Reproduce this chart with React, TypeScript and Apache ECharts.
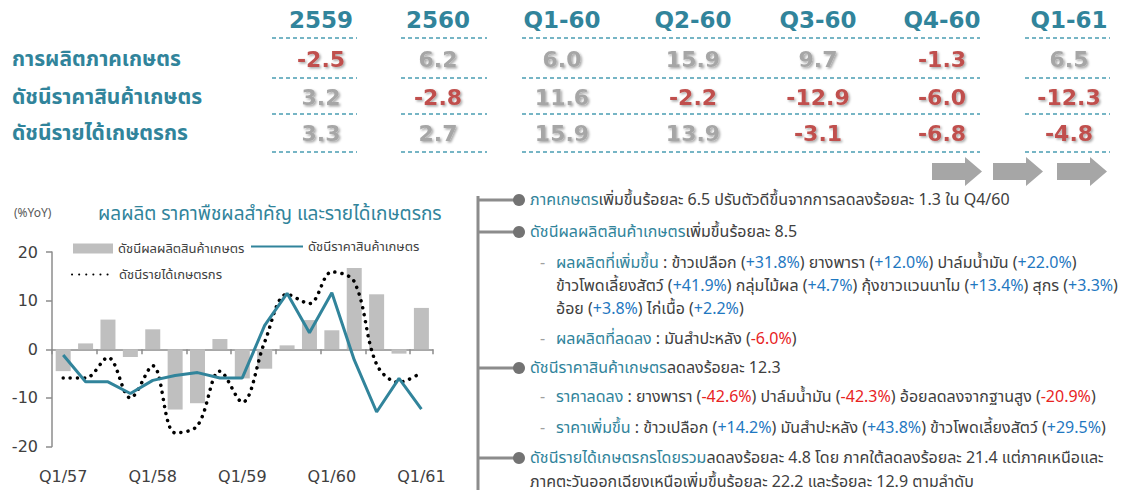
import React, { useEffect, useRef } from "react";
import * as echarts from "echarts";

// ---- chart data ----
const categories = [
  "Q1/57", "Q2/57", "Q3/57", "Q4/57",
  "Q1/58", "Q2/58", "Q3/58", "Q4/58",
  "Q1/59", "Q2/59", "Q3/59", "Q4/59",
  "Q1/60", "Q2/60", "Q3/60", "Q4/60",
  "Q1/61",
];
const productionIndex = [-4.5, 1.2, 6.1, -1.6, 4.1, -12.4, -11.1, 2.1, -6.0, -4.0, 0.8, 6.0, 3.9, 16.7, 11.3, -0.9, 8.5];
const priceIndex = [-1.2, -6.7, -6.7, -9.1, -6.4, -5.4, -4.8, -5.9, -5.9, 4.9, 11.5, 3.4, 11.6, -2.2, -12.9, -6.0, -12.3];
const incomeIndex = [-5.9, -5.9, -1.7, -10.0, -3.4, -17.2, -15.7, -4.5, -10.9, 1.5, 11.3, 9.4, 15.9, 13.9, -3.1, -6.8, -4.8];
const yTicks = { min: -20, max: 20, interval: 10 };

const seriesNames = ["ดัชนีผลผลิตสินค้าเกษตร", "ดัชนีราคาสินค้าเกษตร", "ดัชนีรายได้เกษตรกร"];

// ---- table data ----
const tableColumns = ["2559", "2560", "Q1-60", "Q2-60", "Q3-60", "Q4-60", "Q1-61"];
const tableRows = ["การผลิตภาคเกษตร", "ดัชนีราคาสินค้าเกษตร", "ดัชนีรายได้เกษตรกร"];
const agriProduction = [-2.5, 6.2, 6.0, 15.9, 9.7, -1.3, 6.5];
const agriPrice = [3.2, -2.8, 11.6, -2.2, -12.9, -6.0, -12.3];
const farmIncome = [3.3, 2.7, 15.9, 13.9, -3.1, -6.8, -4.8];
const tableValues = [agriProduction, agriPrice, farmIncome];

// ---- layout / style ----
const TEAL = "#31849b";
const DARK = "#404040";
const GREY_VAL = "#a6a6a6";
const RED_VAL = "#c0504d";
const BLUE = "#1f78c1";
const RED = "#e8231f";
const FONT = "Tahoma, 'Noto Sans Thai', 'Noto Sans', 'DejaVu Sans', sans-serif";
const NUMFONT = "'DejaVu Sans', Tahoma, sans-serif";
const PANEL_FS = 16;

const colX = [321, 438, 562, 693, 818, 942, 1069];
const headerY = 20;
const rowY = [59, 97, 133];
const dashY = [38, 78, 114, 152];
const dashSegs = [[272, 357], [401, 487], [522, 980], [1025, 1110]];
const arrowX = [932, 993, 1057];

const panelLines: { x: number; y: number; dash?: boolean; segs: [string, string][] }[] = [
  { x: 530, y: 200, segs: [["t", "ภาคเกษตร"], ["d", "เพิ่มขึ้นร้อยละ 6.5 ปรับตัวดีขึ้นจากการลดลงร้อยละ 1.3 ใน Q4/60"]] },
  { x: 530, y: 232, segs: [["t", "ดัชนีผลผลิตสินค้าเกษตร"], ["d", "เพิ่มขึ้นร้อยละ 8.5"]] },
  { x: 556, y: 263, dash: true, segs: [["t", "ผลผลิตที่เพิ่มขึ้น"], ["d", " : ข้าวเปลือก ("], ["b", "+31.8%"], ["d", ") ยางพารา ("], ["b", "+12.0%"], ["d", ") ปาล์มน้ำมัน ("], ["b", "+22.0%"], ["d", ")"]] },
  { x: 556, y: 286, segs: [["d", "ข้าวโพดเลี้ยงสัตว์ ("], ["b", "+41.9%"], ["d", ") กลุ่มไม้ผล ("], ["b", "+4.7%"], ["d", ") กุ้งขาวแวนนาไม ("], ["b", "+13.4%"], ["d", ") สุกร ("], ["b", "+3.3%"], ["d", ")"]] },
  { x: 556, y: 309, segs: [["d", "อ้อย ("], ["b", "+3.8%"], ["d", ") ไก่เนื้อ ("], ["b", "+2.2%"], ["d", ")"]] },
  { x: 556, y: 339, dash: true, segs: [["t", "ผลผลิตที่ลดลง"], ["d", " : มันสำปะหลัง ("], ["r", "-6.0%"], ["d", ")"]] },
  { x: 530, y: 368, segs: [["t", "ดัชนีราคาสินค้าเกษตร"], ["d", "ลดลงร้อยละ 12.3"]] },
  { x: 556, y: 397, dash: true, segs: [["t", "ราคาลดลง"], ["d", " : ยางพารา ("], ["r", "-42.6%"], ["d", ") ปาล์มน้ำมัน ("], ["r", "-42.3%"], ["d", ") อ้อยลดลงจากฐานสูง ("], ["r", "-20.9%"], ["d", ")"]] },
  { x: 556, y: 428, dash: true, segs: [["t", "ราคาเพิ่มขึ้น"], ["d", " : ข้าวเปลือก ("], ["b", "+14.2%"], ["d", ") มันสำปะหลัง ("], ["b", "+43.8%"], ["d", ") ข้าวโพดเลี้ยงสัตว์ ("], ["b", "+29.5%"], ["d", ")"]] },
  { x: 530, y: 458, segs: [["t", "ดัชนีรายได้เกษตรกรโดยรวม"], ["d", "ลดลงร้อยละ 4.8 โดย ภาคใต้ลดลงร้อยละ 21.4 แต่ภาคเหนือและ"]] },
  { x: 530, y: 482, segs: [["d", "ภาคตะวันออกเฉียงเหนือเพิ่มขึ้นร้อยละ 22.2 และร้อยละ 12.9 ตามลำดับ"]] },
];
const bulletY = [200, 232, 368, 458];

function txt(x: number, y: number, text: string, o: any = {}) {
  const align = o.align || "left";
  return {
    type: "text",
    x,
    y,
    silent: true,
    style: {
      text,
      fill: o.fill || DARK,
      fontSize: o.fontSize || 14,
      fontFamily: o.fontFamily || FONT,
      fontWeight: o.fontWeight || "normal",
      align,
      textAlign: align,
      verticalAlign: "middle",
      textVerticalAlign: "middle",
      textShadowColor: o.shadow ? "rgba(0,0,0,0.35)" : undefined,
      textShadowBlur: o.shadow ? 2 : undefined,
      textShadowOffsetX: o.shadow ? 1.5 : undefined,
      textShadowOffsetY: o.shadow ? 1.5 : undefined,
    },
  };
}

function buildGraphics() {
  const els: any[] = [];
  tableColumns.forEach((c, i) => {
    els.push(txt(colX[i], headerY, c, { fill: TEAL, fontSize: 23, fontWeight: "bold", fontFamily: NUMFONT, align: "center" }));
  });
  tableRows.forEach((r, i) => {
    els.push(txt(12, rowY[i], r, { fill: TEAL, fontSize: 21, fontWeight: "bold" }));
  });
  tableValues.forEach((row, ri) => {
    row.forEach((v, ci) => {
      els.push(
        txt(colX[ci], rowY[ri], v.toFixed(1), {
          fill: v < 0 ? RED_VAL : GREY_VAL,
          fontSize: 22,
          fontWeight: "bold",
          fontFamily: NUMFONT,
          align: "center",
          shadow: true,
        })
      );
    });
  });
  dashY.forEach((y) => {
    dashSegs.forEach(([a, b]) => {
      els.push({
        type: "line",
        silent: true,
        shape: { x1: a, y1: y, x2: b, y2: y },
        style: { stroke: "#4a9db3", lineWidth: 1.6, lineDash: [4, 3] },
      });
    });
  });
  arrowX.forEach((x0) => {
    els.push({
      type: "polygon",
      silent: true,
      shape: {
        points: [
          [x0, 163], [x0 + 33, 163], [x0 + 33, 157], [x0 + 50, 171.5],
          [x0 + 33, 186], [x0 + 33, 180], [x0, 180],
        ],
      },
      style: { fill: "#a6a6a6" },
    });
  });
  els.push(txt(14, 213, "(%YoY)", { fill: "#595959", fontSize: 12 }));

  els.push({
    type: "line",
    silent: true,
    shape: { x1: 478, y1: 196, x2: 478, y2: 490 },
    style: { stroke: "#8c8c8c", lineWidth: 3 },
  });
  bulletY.forEach((y) => {
    els.push({
      type: "line",
      silent: true,
      shape: { x1: 478, y1: y, x2: 514, y2: y },
      style: { stroke: "#8c8c8c", lineWidth: 3 },
    });
    els.push({
      type: "circle",
      silent: true,
      shape: { cx: 519, cy: y, r: 6 },
      style: { fill: "#737373" },
    });
  });

  const richBase = { fontSize: PANEL_FS, fontFamily: FONT };
  const rich = {
    t: { ...richBase, fill: TEAL, color: TEAL },
    d: { ...richBase, fill: DARK, color: DARK },
    b: { ...richBase, fill: BLUE, color: BLUE },
    r: { ...richBase, fill: RED, color: RED },
  };
  panelLines.forEach((ln) => {
    if (ln.dash) {
      els.push(txt(540, ln.y, "-", { fill: "#a0a0a0", fontSize: PANEL_FS }));
    }
    const s = ln.segs.map(([k, t]) => `{${k}|${t}}`).join("");
    els.push({
      type: "text",
      x: ln.x,
      y: ln.y,
      silent: true,
      style: {
        text: s,
        rich,
        fontSize: PANEL_FS,
        fontFamily: FONT,
        fill: DARK,
        align: "left",
        verticalAlign: "middle",
        textAlign: "left",
        textVerticalAlign: "middle",
      },
    });
  });
  return els;
}

export default function App() {
  const ref = useRef<HTMLDivElement>(null);
  useEffect(() => {
    if (!ref.current) return;
    const chart = echarts.init(ref.current, undefined, { renderer: "svg" });
    const legendText = { color: DARK, fontSize: 13, fontFamily: FONT };
    chart.setOption({
      animation: false,
      backgroundColor: "#ffffff",
      textStyle: { fontFamily: FONT },
      title: {
        text: "ผลผลิต ราคาพืชผลสำคัญ และรายได้เกษตรกร",
        left: 93,
        top: 200,
        textStyle: { color: TEAL, fontSize: 19, fontWeight: "normal", fontFamily: FONT },
      },
      legend: [
        {
          data: [seriesNames[0]],
          left: 68,
          top: 237,
          icon: "rect",
          itemWidth: 40,
          itemHeight: 10,
          itemGap: 6,
          textStyle: legendText,
        },
        {
          data: [seriesNames[1]],
          left: 245,
          top: 235,
          itemWidth: 52,
          itemHeight: 12,
          itemStyle: { opacity: 0 },
          textStyle: legendText,
        },
        {
          data: [seriesNames[2]],
          left: 66,
          top: 263,
          itemWidth: 42,
          itemHeight: 12,
          itemStyle: { opacity: 0 },
          textStyle: legendText,
        },
      ],
      grid: { left: 52, top: 252, width: 380.6, height: 194.5, containLabel: false },
      xAxis: [
        {
          type: "category",
          data: categories,
          boundaryGap: true,
          axisLine: { onZero: true, lineStyle: { color: "#8c8c8c", width: 1.5 } },
          axisTick: { show: true, interval: 1, length: 5, lineStyle: { color: "#8c8c8c", width: 1.5 } },
          axisLabel: { show: false },
          splitLine: { show: false },
        },
        {
          type: "category",
          data: categories,
          position: "bottom",
          boundaryGap: true,
          axisLine: { show: false, onZero: false },
          axisTick: { show: false },
          axisLabel: { interval: 3, margin: 22, color: DARK, fontSize: 16, fontFamily: NUMFONT },
          splitLine: { show: false },
        },
      ],
      yAxis: {
        type: "value",
        min: yTicks.min,
        max: yTicks.max,
        interval: yTicks.interval,
        axisLine: { show: true, lineStyle: { color: "#8c8c8c", width: 1.5 } },
        axisTick: { show: true, length: 6, lineStyle: { color: "#8c8c8c", width: 1.5 } },
        axisLabel: { color: DARK, fontSize: 16, margin: 14, fontFamily: NUMFONT },
        splitLine: { show: false },
      },
      series: [
        {
          name: seriesNames[0],
          type: "bar",
          data: productionIndex,
          barWidth: 15,
          itemStyle: { color: "#bfbfbf" },
          z: 1,
        },
        {
          name: seriesNames[1],
          type: "line",
          data: priceIndex,
          symbol: "none",
          lineStyle: { color: TEAL, width: 3 },
          itemStyle: { color: TEAL },
          z: 3,
        },
        {
          name: seriesNames[2],
          type: "line",
          data: incomeIndex,
          symbol: "none",
          smooth: 0.35,
          lineStyle: { color: "#000000", width: 3.5, type: [0.1, 7], cap: "round" },
          itemStyle: { color: "#000000" },
          z: 2,
        },
      ],
      graphic: { elements: buildGraphics() },
    });
    return () => chart.dispose();
  }, []);
  return (
    <div
      ref={ref}
      style={{ position: "fixed", left: 0, top: 0, width: 1135, height: 494, background: "#fff" }}
    />
  );
}
